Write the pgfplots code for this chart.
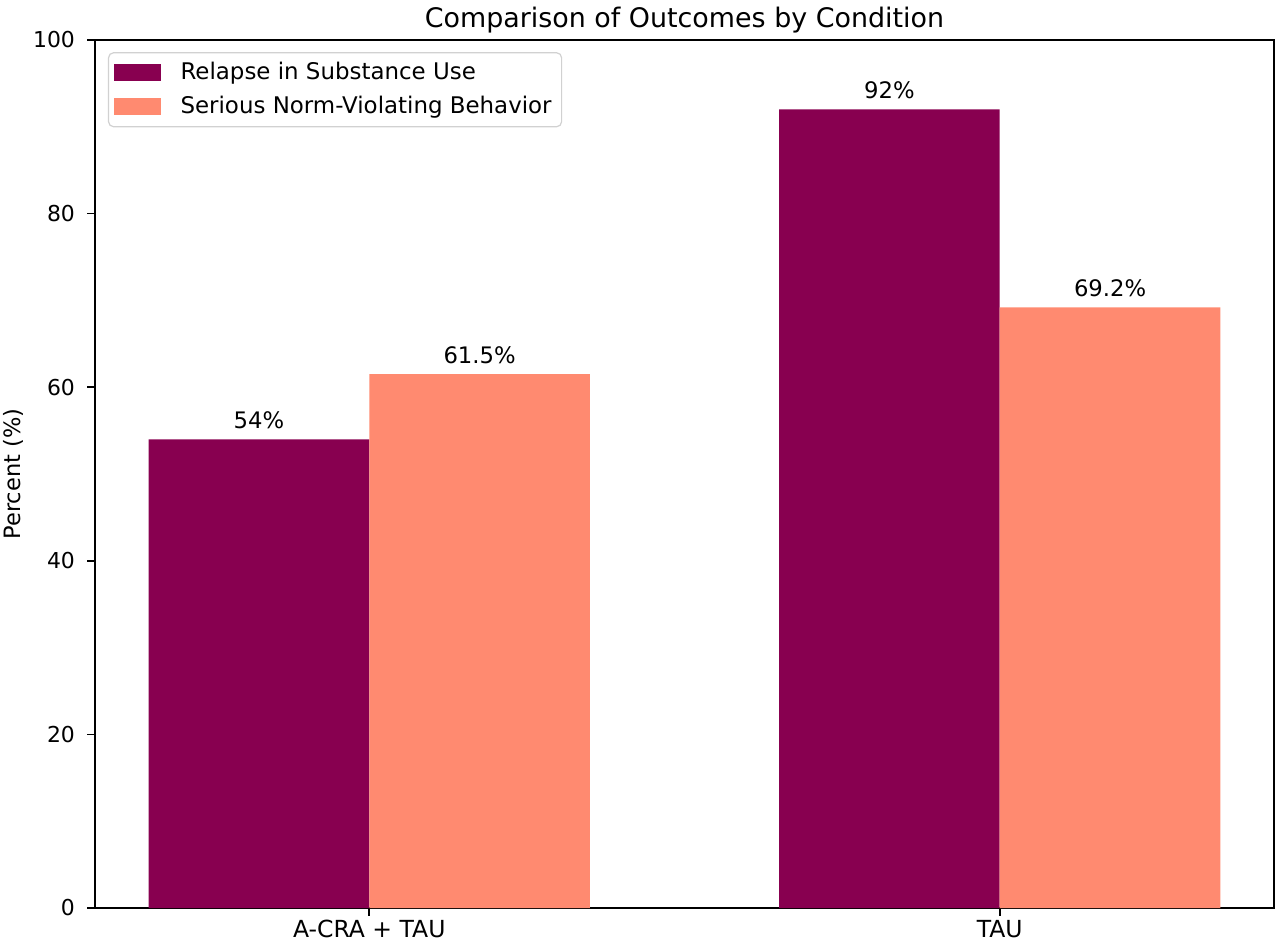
\documentclass[border=0pt]{standalone}
\usepackage{fontspec}
\setmainfont{DejaVu Sans}
\usepackage{pgfplots}
\pgfplotsset{compat=1.18}
\definecolor{relapse}{RGB}{136,0,80}
\definecolor{normv}{RGB}{255,138,112}
\begin{document}
\begin{tikzpicture}
\begin{axis}[
  at={(0,0)}, anchor=south west,
  scale only axis, width=589.5bp, height=434bp,
  xmin=-0.435, xmax=1.435, ymin=0, ymax=100,
  xtick={0,1}, xticklabels={A-CRA + TAU, TAU},
  ytick={0,20,40,60,80,100},
  xtick pos=lower, ytick pos=left,
  /pgf/number format/assume math mode=true,
  tick align=outside, major tick length=3.85bp,
  tick style={black, line width=0.8bp},
  axis line style={black, line width=0.8bp},
  ticklabel style={inner sep=0pt},
  yticklabel style={anchor=east, xshift=-6bp, font=\fontsize{11}{13}\selectfont},
  xticklabel style={anchor=base, yshift=-11bp, font=\fontsize{11.8}{14}\selectfont},
  title={Comparison of Outcomes by Condition},
  every axis title/.style={at={(axis description cs:0.5,1)}, anchor=base, yshift=6.4bp, font=\fontsize{13.5}{16}\selectfont},
  ylabel={Percent (\%)},
  every axis y label/.style={at={(axis description cs:-0.0696,0.5)}, rotate=90, anchor=center, font=\fontsize{11.3}{13}\selectfont},
  ybar, bar width=0.35,
  nodes near coords={\pgfmathprintnumber{\pgfplotspointmeta}\%},
  every node near coord/.append style={font=\fontsize{11.4}{13}\selectfont, anchor=base, yshift=5.5bp, inner sep=0pt, text=black},
  legend image code/.code={\fill[#1, sharp corners] (0bp,-4.2bp) rectangle (23.5bp,4.2bp); \path (31bp,0bp);},
  legend cell align=left,
  legend style={at={(axis description cs:0.011,0.986)}, anchor=north west,
    draw=black!18, line width=0.6bp, rounded corners=2.5bp, fill=white,
    inner xsep=2.5bp, inner ysep=1.5bp, row sep=0bp,
    font=\fontsize{11.5}{14}\selectfont,
    nodes={inner xsep=2.5bp, inner ysep=3.4bp}},
]
\addplot[fill=relapse, draw=none, bar shift=-0.175] coordinates {(0,54) (1,92)};
\addplot[fill=normv, draw=none, bar shift=0.175] coordinates {(0,61.5) (1,69.2)};
\legend{Relapse in Substance Use, Serious Norm-Violating Behavior}
\end{axis}
\pgfresetboundingbox
\useasboundingbox (-47.5bp,-18.5bp) rectangle (592.5bp,454bp);
\end{tikzpicture}
\end{document}
